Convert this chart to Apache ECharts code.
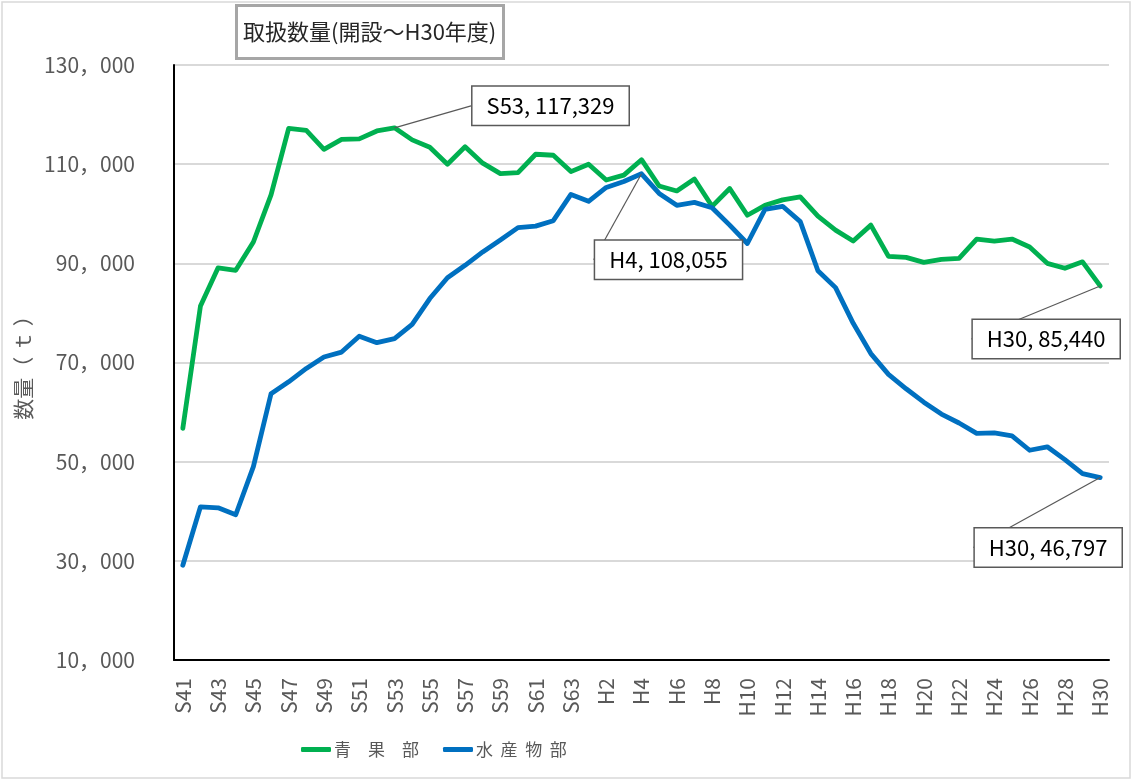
<!DOCTYPE html>
<html>
<head>
<meta charset="utf-8">
<script src="https://cdn.jsdelivr.net/npm/echarts@6/dist/echarts.min.js"></script>
<style>
  html, body { margin: 0; padding: 0; background: #fff; }
  #main { width: 1134px; height: 782px; }
</style>
</head>
<body>
<div id="main"></div>
<script>
// 年度（S41〜S63, H1〜H30）
const years = [
  'S41', 'S42', 'S43', 'S44', 'S45', 'S46', 'S47', 'S48', 'S49', 'S50',
  'S51', 'S52', 'S53', 'S54', 'S55', 'S56', 'S57', 'S58', 'S59', 'S60',
  'S61', 'S62', 'S63', 'H1', 'H2', 'H3', 'H4', 'H5', 'H6', 'H7',
  'H8', 'H9', 'H10', 'H11', 'H12', 'H13', 'H14', 'H15', 'H16', 'H17',
  'H18', 'H19', 'H20', 'H21', 'H22', 'H23', 'H24', 'H25', 'H26', 'H27',
  'H28', 'H29', 'H30'
]
// 青果部 (t)
const seika = [
  56700, 81400, 89100, 88600, 94300, 103800, 117200, 116800, 113000, 115000,
  115100, 116700, 117329, 114900, 113400, 110000, 113500, 110200, 108100, 108300,
  112000, 111800, 108500, 110000, 106800, 107800, 110900, 105600, 104600, 107000,
  101500, 105100, 99700, 101700, 102800, 103400, 99500, 96700, 94500, 97700,
  91400, 91200, 90200, 90800, 91000, 94900, 94500, 94900, 93300, 90000,
  89000, 90300, 85440
]
// 水産物部 (t)
const suisan = [
  29100, 40900, 40700, 39300, 49000, 63700, 66100, 68800, 71100, 72100,
  75300, 74000, 74800, 77700, 82900, 87100, 89600, 92300, 94700, 97200,
  97500, 98600, 103900, 102500, 105300, 106500, 108055, 104100, 101700, 102300,
  101200, 97700, 94000, 100900, 101500, 98400, 88500, 85100, 77900, 71800,
  67600, 64700, 62000, 59600, 57800, 55700, 55800, 55200, 52300, 53000,
  50400, 47600, 46797
]
const seriesNames = ['青　果　部', '水  産  物  部']

// callout boxes: which point, and how far the box sits from it
const callouts = [
  { series: 0, index: 12, dx: 156, dy: -22 },
  { series: 0, index: 52, dx: -54, dy: 53 },
  { series: 1, index: 26, dx: 27, dy: 86 },
  { series: 1, index: 52, dx: -52, dy: 70 }
]

const FONT = '"Noto Sans CJK JP", "Noto Sans", sans-serif'

function findCallout(s, i) {
  return callouts.find(c => c.series === s && c.index === i)
}

function buildData(values, s) {
  return values.map((v, i) => {
    if (!findCallout(s, i)) return v
    return { value: v, label: { show: true }, labelLine: { show: true }}
  })
}

function makeSeries(name, values, s, color) {
  return {
    name: name,
    type: 'line',
    data: buildData(values, s),
    showSymbol: true,
    showAllSymbol: true,
    symbol: 'circle',
    symbolSize: 0,
    itemStyle: { color: color },
    lineStyle: { color: color, width: 4.8, cap: 'round', join: 'round' },
    label: {
      show: false,
      position: 'inside',
      formatter: p => p.name + ', ' + p.value.toLocaleString('en-US'),
      color: '#000',
      fontFamily: FONT,
      fontSize: 22,
      backgroundColor: '#fff',
      borderColor: '#595959',
      borderWidth: 1.5,
      padding: [8, 14]
    },
    labelLine: {
      show: false,
      lineStyle: { color: '#595959', width: 1.2 }
    },
    labelLayout: p => {
      const c = findCallout(p.seriesIndex, p.dataIndex)
      return c ? { dx: c.dx, dy: c.dy } : {}
    },
    emphasis: { disabled: true }
  }
}

const chart = echarts.init(document.getElementById('main'))
chart.setOption({
  animation: false,
  backgroundColor: '#fff',
  graphic: [{
    type: 'rect',
    shape: { x: 2, y: 2, width: 1128, height: 776 },
    style: { fill: 'none', stroke: '#d9d9d9', lineWidth: 1.5 },
    z: -10
  }],
  title: {
    text: '取扱数量(開設～H30年度)',
    left: 236,
    top: 5,
    padding: [16, 7],
    borderColor: '#a6a6a6',
    borderWidth: 3,
    backgroundColor: '#fff',
    textStyle: { fontFamily: FONT, fontSize: 22, fontWeight: 'normal', color: '#262626' }
  },
  legend: {
    left: 296,
    top: 736,
    icon: 'roundRect',
    itemWidth: 30,
    itemHeight: 5,
    itemGap: 24,
    textStyle: { fontFamily: FONT, fontSize: 17, color: '#595959', padding: [0, 0, 0, -2] },
    data: seriesNames
  },
  grid: {
    left: 174,
    right: 25,
    top: 65,
    bottom: 122,
    outerBoundsMode: 'none'
  },
  xAxis: {
    type: 'category',
    data: years,
    boundaryGap: true,
    axisLine: { show: true, lineStyle: { color: '#000', width: 2 }},
    axisTick: { show: false },
    axisLabel: {
      interval: 1,
      rotate: 90,
      margin: 18,
      fontFamily: FONT,
      fontSize: 21,
      color: '#595959'
    },
    splitLine: { show: false }
  },
  yAxis: {
    type: 'value',
    min: 10000,
    max: 130000,
    interval: 20000,
    name: '数量（ ｔ ）',
    nameLocation: 'middle',
    nameGap: 134,
    nameRotate: 90,
    nameTextStyle: { fontFamily: FONT, fontSize: 21, color: '#595959' },
    axisLine: { show: true, lineStyle: { color: '#000', width: 2 }},
    axisTick: { show: false },
    axisLabel: {
      margin: 39,
      fontFamily: FONT,
      fontSize: 21,
      color: '#595959',
      formatter: v => Math.floor(v / 1000) + '，000'
    },
    splitLine: { show: true, lineStyle: { color: '#d9d9d9', width: 2 }}
  },
  tooltip: { show: false },
  series: [
    makeSeries(seriesNames[0], seika, 0, '#00b050'),
    makeSeries(seriesNames[1], suisan, 1, '#0070c0')
  ]
})
</script>
</body>
</html>
